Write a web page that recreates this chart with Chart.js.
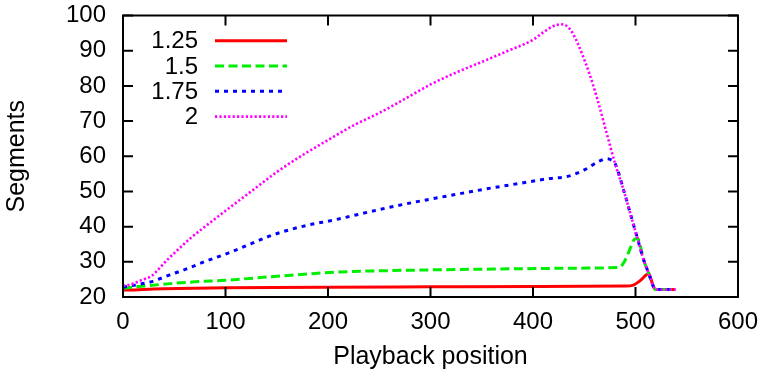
<!DOCTYPE html>
<html>
<head>
<meta charset="utf-8">
<script src="https://cdn.jsdelivr.net/npm/chart.js@4/dist/chart.umd.min.js"></script>
<style>
  html, body { margin: 0; padding: 0; background: #ffffff; }
  #wrap { width: 765px; height: 378px; }
</style>
</head>
<body>
<div id="wrap"><canvas id="chart" width="765" height="378"></canvas></div>
<script>
// Segment counts over playback position for four rate factors.
const seriesNames = ['1.25', '1.5', '1.75', '2'];

const posR125 = [0, 5, 30, 100, 200, 300, 400, 490, 498, 503, 507, 510, 513, 517, 519.5, 529, 539];
const segR125 = [22.0, 22.0, 22.3, 22.6, 22.8, 22.9, 23.0, 23.1, 23.4, 24.3, 25.3, 26.2, 26.6, 23.3, 22.1, 22.1, 22.1];

const posR150 = [0, 20, 46, 70, 102, 150, 210, 260, 300, 350, 407, 440, 484, 488, 492, 496, 499, 502, 508, 513, 517, 519.5, 529, 539];
const segR150 = [22.5, 23.1, 23.8, 24.3, 24.8, 25.9, 27.1, 27.5, 27.7, 27.9, 28.1, 28.2, 28.4, 29.5, 31.8, 34.6, 36.4, 36.6, 30.5, 26.6, 23.3, 22.1, 22.1, 22.1];

const posR175 = [0, 10, 27, 45, 63, 82, 102, 124, 141, 160, 180, 206, 230, 260, 287, 320, 352, 385, 417, 433, 450, 464, 472, 476, 480, 489, 498, 502, 508, 513, 517, 519.5, 529, 539];
const segR175 = [22.8, 23.3, 24.3, 26.2, 28.1, 30.3, 32.4, 35.0, 37.1, 38.9, 40.4, 41.9, 43.5, 45.5, 47.1, 48.9, 50.6, 52.2, 53.7, 54.2, 56.1, 58.5, 59.3, 59.0, 58.0, 49.8, 40.6, 36.6, 30.5, 26.6, 23.3, 22.1, 22.1, 22.1];

const posR200 = [0, 8, 18, 28, 35, 43, 52, 65, 80, 100, 125, 150, 175, 200, 225, 250, 275, 300, 325, 350, 375, 400, 410, 420, 427, 433, 438, 443, 448, 455, 463, 471, 480, 489, 498, 502, 508, 513, 517, 519.5, 529, 539];
const segR200 = [23.2, 23.6, 24.8, 26.0, 28.0, 30.5, 33.0, 36.5, 40.0, 44.5, 50.0, 55.5, 60.3, 64.6, 68.8, 72.3, 76.3, 80.4, 83.8, 86.8, 89.9, 93.1, 95.2, 97.0, 97.5, 97.0, 95.3, 92.5, 89.0, 83.5, 76.0, 67.5, 58.0, 49.8, 40.6, 36.6, 30.5, 26.6, 23.3, 22.1, 22.1, 22.1];

const xTicks = [0, 100, 200, 300, 400, 500, 600];
const yTicks = [20, 30, 40, 50, 60, 70, 80, 90, 100];

const FONT = "'Liberation Sans', Arial, Helvetica, sans-serif";
const FSIZE = 24;
const TITLE_SIZE = 25;

function points(xs, ys) {
  return xs.map((x, i) => ({ x: x, y: ys[i] }));
}

const styles = [
  { color: '#ff0000', dash: [],        width: 3 },
  { color: '#00ee00', dash: [9, 4.5],  width: 3 },
  { color: '#0000ff', dash: [4, 5],    width: 3 },
  { color: '#ff00ff', dash: [2.2, 2.2], width: 2.6 }
];

const seriesData = [
  points(posR125, segR125),
  points(posR150, segR150),
  points(posR175, segR175),
  points(posR200, segR200)
];

const datasets = seriesNames.map((name, i) => ({
  label: name,
  data: seriesData[i],
  borderColor: styles[i].color,
  backgroundColor: styles[i].color,
  borderDash: styles[i].dash,
  borderWidth: styles[i].width,
  borderCapStyle: 'butt',
  pointRadius: 0,
  fill: false,
  cubicInterpolationMode: 'monotone',
  order: seriesNames.length - i
}));

// Frame with inward ticks on all four sides, gnuplot style.
const framePlugin = {
  id: 'frame',
  afterDatasetsDraw(chart) {
    const ctx = chart.ctx;
    const a = chart.chartArea;
    const xs = chart.scales.x, ys = chart.scales.y;
    const tl = 10;
    ctx.save();
    ctx.strokeStyle = '#000000';
    ctx.lineWidth = 2;
    ctx.beginPath();
    xTicks.forEach(v => {
      const px = xs.getPixelForValue(v);
      ctx.moveTo(px, a.bottom); ctx.lineTo(px, a.bottom - tl);
      ctx.moveTo(px, a.top);    ctx.lineTo(px, a.top + tl);
    });
    yTicks.forEach(v => {
      const py = ys.getPixelForValue(v);
      ctx.moveTo(a.left, py);  ctx.lineTo(a.left + tl, py);
      ctx.moveTo(a.right, py); ctx.lineTo(a.right - tl, py);
    });
    ctx.stroke();
    ctx.strokeRect(a.left, a.top, a.right - a.left, a.bottom - a.top);
    ctx.restore();
  }
};

// Key in the upper left: right-aligned labels followed by line samples.
const keyPlugin = {
  id: 'key',
  afterDatasetsDraw(chart) {
    const ctx = chart.ctx;
    const a = chart.chartArea;
    const textRight = a.left + 75;
    const lineStart = a.left + 92;
    const lineEnd = a.left + 164;
    const firstRow = a.top + 25.2;
    const rowGap = 25.3;
    ctx.save();
    ctx.font = FSIZE + 'px ' + FONT;
    ctx.textAlign = 'right';
    ctx.textBaseline = 'middle';
    chart.data.datasets.forEach((ds, i) => {
      const y = firstRow + i * rowGap;
      ctx.fillStyle = '#000000';
      ctx.fillText(ds.label, textRight, y + 1);
      ctx.strokeStyle = ds.borderColor;
      ctx.lineWidth = ds.borderWidth;
      ctx.lineCap = 'butt';
      ctx.setLineDash(ds.borderDash);
      ctx.beginPath();
      ctx.moveTo(lineStart, y);
      ctx.lineTo(lineEnd, y);
      ctx.stroke();
    });
    ctx.restore();
  }
};

new Chart(document.getElementById('chart'), {
  type: 'line',
  data: { datasets: datasets },
  plugins: [framePlugin, keyPlugin],
  options: {
    responsive: false,
    animation: false,
    events: [],
    layout: { padding: { left: 0, top: 15.5, right: 27, bottom: 0 } },
    plugins: {
      legend: { display: false },
      tooltip: { enabled: false }
    },
    scales: {
      x: {
        type: 'linear',
        min: 0,
        max: 600,
        afterBuildTicks(scale) { scale.ticks = xTicks.map(v => ({ value: v })); },
        afterFit(scale) {
          scale.height = 81;
          scale.paddingLeft = 0;
          scale.paddingRight = 0;
        },
        grid: { display: false, drawTicks: false },
        border: { display: false },
        ticks: {
          padding: 11,
          color: '#000000',
          font: { family: FONT, size: FSIZE },
          maxRotation: 0
        },
        title: {
          display: true,
          text: 'Playback position',
          color: '#000000',
          font: { family: FONT, size: TITLE_SIZE },
          padding: { top: 0, bottom: 6 }
        }
      },
      y: {
        type: 'linear',
        min: 20,
        max: 100,
        afterBuildTicks(scale) { scale.ticks = yTicks.map(v => ({ value: v })); },
        afterFit(scale) {
          scale.width = 123;
          scale.paddingTop = 0;
          scale.paddingBottom = 0;
        },
        grid: { display: false, drawTicks: false },
        border: { display: false },
        ticks: {
          padding: 17,
          color: '#000000',
          font: { family: FONT, size: FSIZE }
        },
        title: {
          display: true,
          text: 'Segments',
          color: '#000000',
          font: { family: FONT, size: TITLE_SIZE },
          padding: { top: 2, bottom: 0 }
        }
      }
    }
  }
});
</script>
</body>
</html>
